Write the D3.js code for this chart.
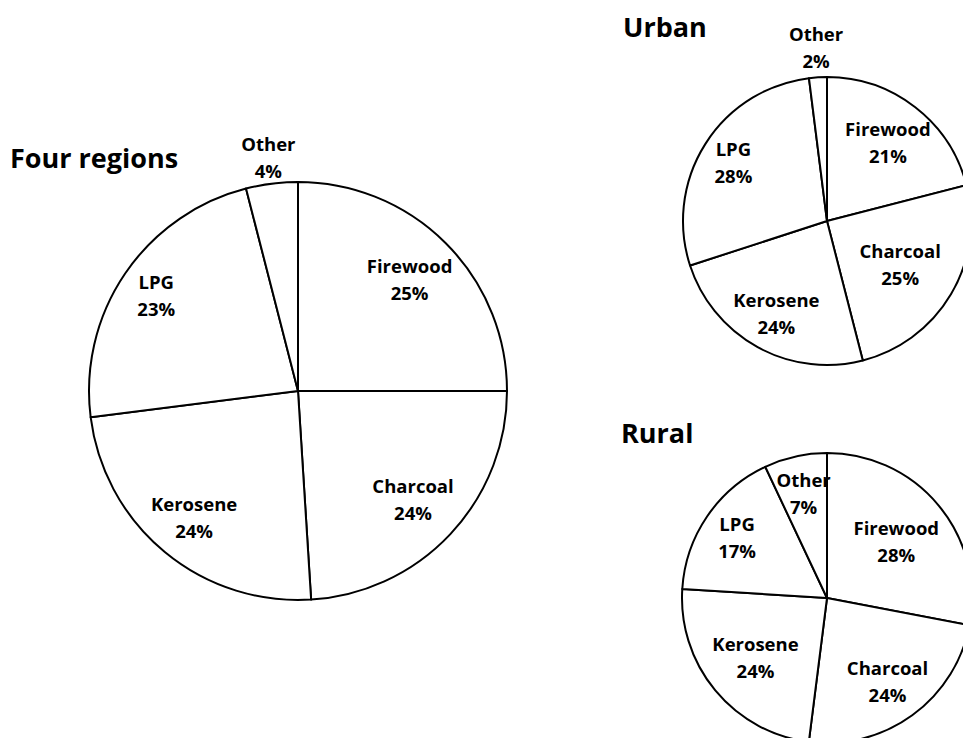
<!DOCTYPE html>
<html>
<head>
<meta charset="utf-8">
<script src="https://cdn.jsdelivr.net/npm/d3@7"></script>
<style>
  body { margin: 0; background: #fff; }
  text { font-family: "Open Sans", sans-serif; font-weight: bold; fill: #000; }
</style>
</head>
<body>
<div id="chart"></div>
<script>
var categories = ['Firewood', 'Charcoal', 'Kerosene', 'LPG', 'Other'];
var fourRegions = [25, 24, 24, 23, 4];
var urban = [21, 25, 24, 28, 2];
var rural = [28, 24, 24, 17, 7];

var width = 963,
    height = 738;

var svg = d3.select('#chart')
    .append('svg')
    .attr('width', width)
    .attr('height', height);

// layout for each pie: centre, radius, title spot, label distance per slice (fraction of radius)
var charts = [
    { title: 'Four regions', values: fourRegions, cx: 298, cy: 391, r: 209, tx: 10, ty: 168,
      labelK: [0.755, 0.755, 0.78, 0.82, 1.13] },
    { title: 'Urban', values: urban, cx: 827, cy: 221, r: 144, tx: 623, ty: 37,
      labelK: [0.69, 0.59, 0.73, 0.77, 1.21] },
    { title: 'Rural', values: rural, cx: 827, cy: 598, r: 145, tx: 621, ty: 443,
      labelK: [0.62, 0.71, 0.64, 0.75, 0.74] }
];

var pie = d3.pie()
    .sort(null)
    .value(function (d) { return d.value; });

charts.forEach(function (c) {
    var data = categories.map(function (name, i) {
        return { name: name, value: c.values[i], k: c.labelK[i] };
    });

    svg.append('text')
        .attr('x', c.tx)
        .attr('y', c.ty)
        .style('font-size', '27px')
        .text(c.title);

    var g = svg.append('g')
        .attr('transform', 'translate(' + c.cx + ',' + c.cy + ')');

    var arc = d3.arc().innerRadius(0).outerRadius(c.r);

    g.selectAll('.slice')
        .data(pie(data))
        .enter()
        .append('path')
        .attr('class', 'slice')
        .attr('d', arc)
        .attr('fill', '#fff')
        .attr('stroke', '#000')
        .attr('stroke-width', 2)
        .attr('stroke-linejoin', 'round');

    var labels = g.selectAll('.label')
        .data(pie(data))
        .enter()
        .append('text')
        .attr('class', 'label')
        .attr('text-anchor', 'middle')
        .style('font-size', '18.5px')
        .attr('transform', function (d) {
            var rr = c.r * d.data.k;
            var p = d3.arc().innerRadius(rr).outerRadius(rr).centroid(d);
            return 'translate(' + p[0] + ',' + p[1] + ')';
        });

    labels.append('tspan')
        .attr('x', 0)
        .attr('y', -6)
        .text(function (d) { return d.data.name; });

    labels.append('tspan')
        .attr('x', 0)
        .attr('y', 21)
        .text(function (d) { return d.data.value + '%'; });
});
</script>
</body>
</html>
